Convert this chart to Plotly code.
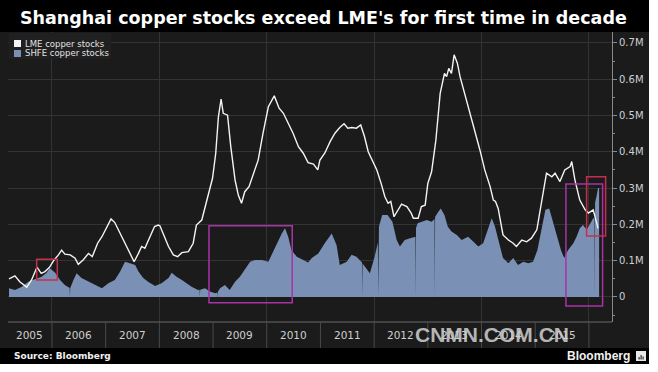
import plotly.graph_objects as go

# ---------------- data (thousand tonnes, decimal years) ----------------
lme_year = [2005.20, 2005.31, 2005.40, 2005.53, 2005.62, 2005.72, 2005.80, 2005.87, 2005.95,
            2006.04, 2006.12, 2006.18, 2006.24, 2006.34, 2006.43, 2006.49, 2006.58, 2006.68,
            2006.75, 2006.85, 2006.93, 2007.02, 2007.10, 2007.17, 2007.27, 2007.36, 2007.45,
            2007.53, 2007.61, 2007.67, 2007.73, 2007.82, 2007.91, 2007.98, 2008.01, 2008.07,
            2008.17, 2008.26, 2008.34, 2008.42, 2008.54, 2008.63, 2008.69, 2008.79, 2008.85,
            2008.91, 2008.99, 2009.05, 2009.10, 2009.15, 2009.19, 2009.27, 2009.33, 2009.41,
            2009.47, 2009.53, 2009.59, 2009.67, 2009.75, 2009.84, 2009.93, 2010.03, 2010.14,
            2010.23, 2010.31, 2010.40, 2010.49, 2010.59, 2010.68, 2010.77, 2010.87, 2010.95,
            2010.99, 2011.08, 2011.18, 2011.27, 2011.36, 2011.44, 2011.51, 2011.58, 2011.67,
            2011.75, 2011.82, 2011.89, 2011.98, 2012.05, 2012.13, 2012.20, 2012.26, 2012.31,
            2012.37, 2012.45, 2012.51, 2012.61, 2012.69, 2012.73, 2012.82, 2012.88, 2012.95,
            2013.00, 2013.07, 2013.15, 2013.23, 2013.31, 2013.35, 2013.39, 2013.44, 2013.49,
            2013.55, 2013.60, 2013.67, 2013.78, 2013.88, 2013.97, 2014.06, 2014.16, 2014.22,
            2014.26, 2014.31, 2014.36, 2014.40, 2014.50, 2014.59, 2014.65, 2014.75, 2014.84,
            2014.93, 2015.03, 2015.09, 2015.15, 2015.21, 2015.31, 2015.37, 2015.46, 2015.55,
            2015.65, 2015.68, 2015.74, 2015.83, 2015.93, 2015.99, 2016.08, 2016.12, 2016.17]
lme_kt = [50, 58, 42, 27, 47, 82, 65, 70, 81,
          102, 116, 129, 118, 116, 107, 90, 102, 120,
          111, 148, 166, 194, 215, 205, 175, 148, 120,
          97, 120, 139, 134, 166, 194, 198, 196, 175,
          139, 116, 111, 122, 125, 148, 198, 212, 249,
          286, 327, 396, 497, 545, 506, 501, 414, 322,
          281, 258, 290, 304, 341, 377, 451, 524, 554,
          520, 506, 479, 451, 414, 396, 370, 366, 350,
          377, 396, 428, 451, 467, 477, 465, 467, 465,
          474, 442, 400, 373, 350, 313, 276, 258, 263,
          221, 240, 256, 249, 231, 217, 217, 249, 253,
          313, 345, 432, 561, 616, 607, 630, 616, 667,
          644, 607, 570, 510, 460, 405, 350, 304, 267,
          263, 244, 203, 171, 157, 148, 139, 157, 152,
          162, 185, 240, 295, 341, 331, 341, 318, 350,
          359, 373, 322, 267, 240, 231, 240, 217, 189]

shfe_year = [2005.20, 2005.31, 2005.44, 2005.56, 2005.68, 2005.81, 2005.90, 2005.96, 2006.06,
             2006.15, 2006.24, 2006.33, 2006.335, 2006.34, 2006.40, 2006.46, 2006.55, 2006.68,
             2006.80, 2006.93, 2007.05, 2007.17, 2007.27, 2007.36, 2007.45, 2007.55, 2007.61,
             2007.70, 2007.79, 2007.92, 2008.04, 2008.17, 2008.23, 2008.32, 2008.42, 2008.51,
             2008.60, 2008.72, 2008.75, 2008.755, 2008.76, 2008.85, 2008.94, 2009.04, 2009.08,
             2009.085, 2009.09, 2009.13, 2009.22, 2009.31, 2009.41, 2009.50, 2009.59, 2009.69,
             2009.78, 2009.91, 2010.03, 2010.12, 2010.21, 2010.28, 2010.34, 2010.40, 2010.46,
             2010.56, 2010.68, 2010.77, 2010.84, 2010.96, 2011.08, 2011.21, 2011.30, 2011.36,
             2011.49, 2011.58, 2011.67, 2011.75, 2011.775, 2011.78, 2011.785, 2011.83, 2011.92,
             2012.01, 2012.07, 2012.075, 2012.08, 2012.09, 2012.15, 2012.25, 2012.34, 2012.42,
             2012.48, 2012.57, 2012.67, 2012.75, 2012.77, 2012.775, 2012.78, 2012.81, 2012.88,
             2012.98, 2013.07, 2013.125, 2013.13, 2013.135, 2013.18, 2013.24, 2013.31, 2013.37,
             2013.44, 2013.54, 2013.63, 2013.75, 2013.85, 2013.94, 2014.03, 2014.12, 2014.19,
             2014.25, 2014.31, 2014.40, 2014.50, 2014.59, 2014.68, 2014.78, 2014.87, 2014.96,
             2015.04, 2015.12, 2015.19, 2015.26, 2015.32, 2015.40, 2015.48, 2015.54, 2015.61,
             2015.71, 2015.77, 2015.83, 2015.89, 2015.96, 2016.02, 2016.08, 2016.105, 2016.11,
             2016.115, 2016.14, 2016.17, 2016.19]
shfe_kt = [24, 19, 28, 42, 49, 56, 67, 79, 67,
           47, 33, 25, 0, 25, 47, 65, 52, 42,
           33, 24, 38, 47, 70, 97, 93, 88, 70,
           52, 42, 30, 38, 52, 67, 56, 47, 38,
           28, 19, 20, 0, 20, 24, 15, 10, 12,
           0, 14, 24, 33, 19, 42, 56, 74, 97,
           102, 102, 97, 125, 157, 175, 189, 166, 129,
           111, 102, 95, 107, 120, 148, 175, 143, 88,
           97, 116, 111, 97, 95, 0, 92, 83, 65,
           111, 150, 0, 180, 194, 226, 226, 207, 157,
           139, 157, 162, 166, 166, 0, 190, 203, 207,
           212, 207, 215, 0, 220, 231, 244, 226, 194,
           180, 171, 157, 166, 152, 139, 148, 185, 217,
           194, 157, 107, 93, 107, 88, 97, 93, 97,
           129, 185, 240, 244, 212, 166, 129, 107, 129,
           148, 166, 189, 198, 185, 203, 217, 217, 0,
           260, 276, 300, 300]

labeled_years = list(range(2005, 2016))
grid_years = [2006, 2008, 2010, 2012, 2014, 2016]
y_tick_vals = [0, 100, 200, 300, 400, 500, 600, 700]
y_tick_text = ["0", "0.1M", "0.2M", "0.3M", "0.4M", "0.5M", "0.6M", "0.7M"]
legend_names = ["LME copper stocks", "SHFE copper stocks"]

# highlight boxes: (x0, x1, y0, y1, colour)
highlight_boxes = [
    (2005.715, 2006.099, 47, 104, "#c3304e"),
    (2008.924, 2010.475, -16, 196, "#a932a6"),
    (2015.572, 2016.255, -25, 311, "#a932a6"),
    (2015.957, 2016.311, 168, 331, "#c3304e"),
]

# ---------------- layout constants ----------------
W, H = 658, 372
L, R, T, B = 8, 46, 32, 50
PW, PH = W - L - R, H - T - B
X_RANGE = [2005.181, 2016.43]
Y_RANGE = [-69, 730]
PLOT_BG = "#1b1b1b"
SHFE_COL = "#7a91b5"


def px(xp):
    return (xp - L) / PW


def py(yp):
    return (H - B - yp) / PH


def xdata_to_paper(v):
    return (v - X_RANGE[0]) / (X_RANGE[1] - X_RANGE[0])


fig = go.Figure()
fig.add_trace(go.Scatter(x=shfe_year, y=shfe_kt, mode="lines", fill="tozeroy",
                         fillcolor=SHFE_COL, line=dict(width=0, color=SHFE_COL),
                         name=legend_names[1], showlegend=False, hoverinfo="skip"))
fig.add_trace(go.Scatter(x=lme_year, y=lme_kt, mode="lines",
                         line=dict(color="#f4f4f4", width=1.4),
                         name=legend_names[0], showlegend=False, hoverinfo="skip"))

shapes = []
shapes.append(dict(type="rect", xref="paper", yref="paper", x0=px(0), x1=px(649),
                   y0=py(348), y1=py(32), fillcolor=PLOT_BG, line=dict(width=0), layer="below"))
shapes.append(dict(type="line", xref="paper", yref="paper", x0=0, x1=1, y0=0, y1=0,
                   line=dict(color="#6a6a6a", width=1), layer="above"))
for yr in range(2006, 2017):
    xp = xdata_to_paper(yr)
    shapes.append(dict(type="line", xref="paper", yref="paper", x0=xp, x1=xp,
                       y0=py(348), y1=0, line=dict(color="#4a4a4a", width=1), layer="above"))
for (x0, x1, y0, y1, c) in highlight_boxes:
    shapes.append(dict(type="rect", xref="x", yref="y", x0=x0, x1=x1, y0=y0, y1=y1,
                       line=dict(color=c, width=1.5), fillcolor="rgba(0,0,0,0)", layer="above"))
shapes.append(dict(type="rect", xref="paper", yref="paper", x0=px(9), x1=px(111),
                   y0=py(59), y1=py(33), fillcolor="#202020", line=dict(width=0), layer="above"))
shapes.append(dict(type="rect", xref="paper", yref="paper", x0=px(14), x1=px(21),
                   y0=py(47), y1=py(40), fillcolor="#f4f4f4", line=dict(width=0), layer="above"))
shapes.append(dict(type="rect", xref="paper", yref="paper", x0=px(14), x1=px(21),
                   y0=py(57), y1=py(50), fillcolor=SHFE_COL, line=dict(width=0), layer="above"))
shapes.append(dict(type="rect", xref="paper", yref="paper", x0=px(649), x1=px(W + 2),
                   y0=py(H + 2), y1=py(-2), fillcolor="white", line=dict(width=0), layer="above"))
shapes.append(dict(type="rect", xref="paper", yref="paper", x0=px(-2), x1=px(W + 2),
                   y0=py(H + 2), y1=py(364), fillcolor="white", line=dict(width=0), layer="above"))
# small Bloomberg logo icon
shapes.append(dict(type="rect", xref="paper", yref="paper", x0=px(636), x1=px(646),
                   y0=py(361), y1=py(351), fillcolor="#e8e8e8", line=dict(width=0), layer="above"))
for (bx, btop) in [(638.5, 357), (640.5, 355), (642.5, 356.5)]:
    shapes.append(dict(type="rect", xref="paper", yref="paper", x0=px(bx), x1=px(bx + 1.2),
                       y0=py(359.5), y1=py(btop), fillcolor="#333333", line=dict(width=0),
                       layer="above"))

annotations = []
for yr in labeled_years:
    left = max(yr, X_RANGE[0])
    annotations.append(dict(x=(left + yr + 1) / 2, xref="x", y=py(335), yref="paper",
                            xanchor="center", yanchor="middle", text=str(yr), showarrow=False,
                            font=dict(family="DejaVu Sans", size=10.5, color="#cfcfcf")))
annotations.append(dict(x=px(23), y=py(43.5), xref="paper", yref="paper", xanchor="left",
                        yanchor="middle", text=legend_names[0], showarrow=False,
                        font=dict(family="DejaVu Sans", size=8.5, color="#e2e2e2")))
annotations.append(dict(x=px(23), y=py(53.5), xref="paper", yref="paper", xanchor="left",
                        yanchor="middle", text=legend_names[1], showarrow=False,
                        font=dict(family="DejaVu Sans", size=8.5, color="#e2e2e2")))
annotations.append(dict(x=px(12), y=py(356), xref="paper", yref="paper", xanchor="left",
                        yanchor="middle", text="<b>Source: Bloomberg</b>", showarrow=False,
                        font=dict(family="DejaVu Sans", size=9, color="#f0f0f0")))
annotations.append(dict(x=px(632), y=py(356), xref="paper", yref="paper", xanchor="right",
                        yanchor="middle", text="<b>Bloomberg</b>", showarrow=False,
                        font=dict(family="Liberation Sans", size=12, color="#f0f0f0")))
annotations.append(dict(x=px(492), y=py(334), xref="paper", yref="paper",
                        xanchor="center", yanchor="middle", text="<b>CNMN.COM.CN</b>",
                        showarrow=False,
                        font=dict(family="Liberation Sans", size=21, color="rgba(210,210,210,0.85)")))
annotations.append(dict(x=px(18), y=py(18), xref="paper", yref="paper", xanchor="left",
                        yanchor="middle",
                        text="<b>Shanghai copper stocks exceed LME's for first time in decade</b>",
                        showarrow=False,
                        font=dict(family="DejaVu Sans", size=17.5, color="white")))

fig.update_layout(
    width=W, height=H,
    margin=dict(l=L, r=R, t=T, b=B),
    paper_bgcolor="black",
    plot_bgcolor=PLOT_BG,
    xaxis=dict(range=X_RANGE, tickvals=grid_years, showticklabels=False, ticks="",
               showgrid=True, gridcolor="#333333", gridwidth=1, zeroline=False, showline=False,
               fixedrange=True),
    yaxis=dict(range=Y_RANGE, side="right", tickvals=y_tick_vals, ticktext=y_tick_text,
               ticks="outside", ticklen=4, tickcolor="#8a8a8a", showline=True,
               linecolor="#8a8a8a", linewidth=1, showgrid=True, gridcolor="#333333",
               zeroline=False,
               minor=dict(tickvals=[-50, 50, 150, 250, 350, 450, 550, 650], ticks="outside",
                          ticklen=2, tickcolor="#8a8a8a", showgrid=False),
               tickfont=dict(family="DejaVu Sans", size=10, color="#d0d0d0"),
               fixedrange=True),
    shapes=shapes,
    annotations=annotations,
    showlegend=False,
)

fig.write_html("out.html", config={"displayModeBar": False},
               post_script="document.body.style.margin='0';document.body.style.overflow='hidden';")
